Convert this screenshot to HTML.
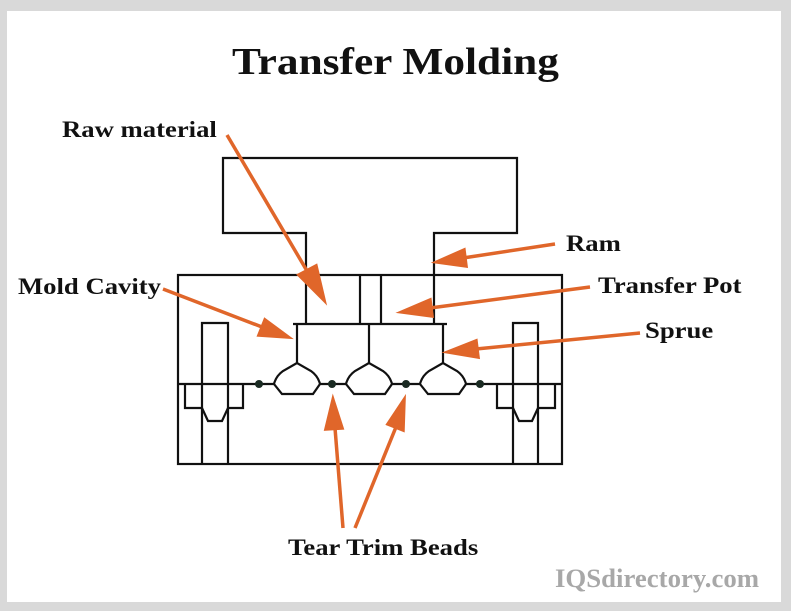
<!DOCTYPE html>
<html><head><style>
html,body{margin:0;padding:0;}
body{width:791px;height:611px;background:#d9d9d9;position:relative;overflow:hidden;font-family:"Liberation Serif",serif;}
#w{position:absolute;left:7px;top:11px;width:774px;height:591px;background:#fff;}
.t{position:absolute;font-weight:bold;color:#111;white-space:nowrap;font-size:23px;transform:scaleX(1.16);transform-origin:0 0;}
</style></head><body>
<div id="w"></div>
<svg width="791" height="611" style="position:absolute;left:0;top:0">
<g fill="none" stroke="#111" stroke-width="2.2">
<path d="M306,275 V233 H223 V158 H517 V233 H434 V275"/>
<rect x="178" y="275" width="384" height="189"/>
<line x1="306" y1="275" x2="306" y2="324"/><line x1="434" y1="275" x2="434" y2="324"/>
<line x1="360" y1="275" x2="360" y2="324"/><line x1="381" y1="275" x2="381" y2="324"/>
<line x1="293" y1="324" x2="447" y2="324"/>
<line x1="297" y1="324" x2="297" y2="363"/><line x1="369" y1="324" x2="369" y2="363"/><line x1="443" y1="324" x2="443" y2="363"/>
<path d="M297,363 L283,371 Q276,376 274,384 L282,394 H313 L320,384 Q318,376 311,371 Z"/>
<path d="M369,363 L355,371 Q348,376 346,384 L354,394 H385 L392,384 Q390,376 383,371 Z"/>
<path d="M443,363 L429,371 Q422,376 420,384 L428,394 H459 L466,384 Q464,376 457,371 Z"/>
<line x1="178" y1="384" x2="274" y2="384"/><line x1="320" y1="384" x2="346" y2="384"/><line x1="392" y1="384" x2="420" y2="384"/><line x1="466" y1="384" x2="562" y2="384"/>
<path d="M202,464 V323 H228 V464"/><path d="M185,384 V408 H202 M228,408 H243 V384"/>
<path d="M202,408 L208,421 H222 L228,408"/>
<path d="M513,464 V323 H538 V464"/><path d="M497,384 V408 H513 M538,408 H555 V384"/>
<path d="M513,408 L519,421 H532 L538,408"/>
</g>
<g fill="#1a2a22"><circle cx="259" cy="384" r="4"/><circle cx="332" cy="384" r="4"/><circle cx="406" cy="384" r="4"/><circle cx="480" cy="384" r="4"/></g>
<g stroke="#e0662a" stroke-width="3.5" fill="#e0662a">
<line x1="227" y1="135" x2="310" y2="276"/><path d="M324,300 L299,275 L316,266 Z"/>
<line x1="555" y1="244" x2="463" y2="258"/><path d="M437,262 L464,250 L466,266 Z"/>
<line x1="590" y1="287" x2="430" y2="308"/><path d="M402,312 L430,300 L432,316 Z"/>
<line x1="640" y1="333" x2="476" y2="349"/><path d="M448,352 L476,341 L478,357 Z"/>
<line x1="163" y1="289" x2="262" y2="327"/><path d="M288,337 L259,335 L265,320 Z"/>
<line x1="343" y1="528" x2="335" y2="428"/><path d="M333,400 L342,428 L326,429 Z"/>
<line x1="355" y1="528" x2="396" y2="427"/><path d="M404,400 L403,430 L388,424 Z"/>
</g>
</svg>
<div class="t" style="left:232px;top:40px;font-size:38px;transform:scaleX(1.14);">Transfer Molding</div>
<div class="t" style="left:62px;top:117px;">Raw material</div>
<div class="t" style="left:566px;top:231px;">Ram</div>
<div class="t" style="left:18px;top:274px;">Mold Cavity</div>
<div class="t" style="left:598px;top:273px;">Transfer Pot</div>
<div class="t" style="left:645px;top:318px;">Sprue</div>
<div class="t" style="left:288px;top:535px;">Tear Trim Beads</div>
<div class="t" style="left:555px;top:564px;color:#a8a8a8;font-size:26px;transform:scaleX(1.03);">IQSdirectory.com</div>
</body></html>
